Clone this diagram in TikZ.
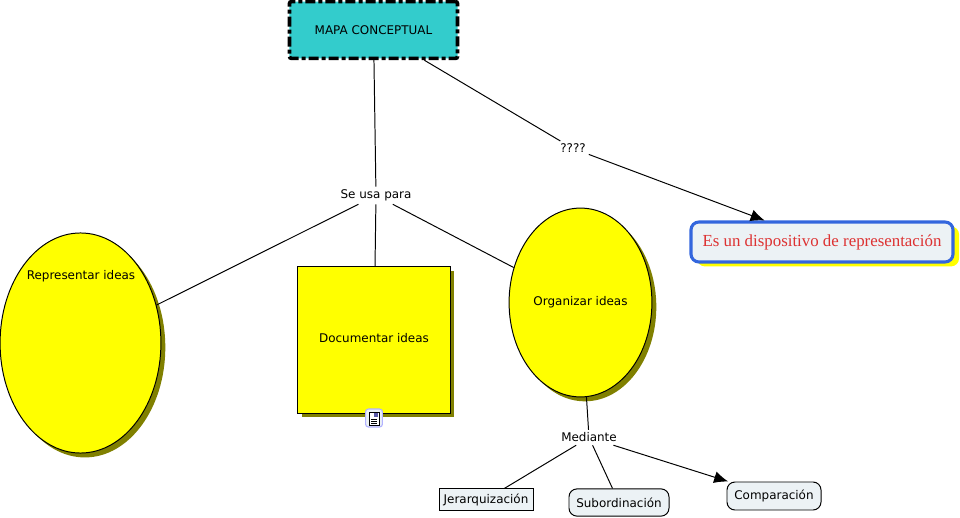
\documentclass[tikz,border=0pt]{standalone}
\usepackage{fontspec}
\setmainfont{DejaVu Sans}
\newfontfamily\redfont{Liberation Serif}
\usetikzlibrary{arrows.meta, shapes.geometric, shadows}
\definecolor{tealbox}{RGB}{51,204,204}
\definecolor{paleblue}{RGB}{236,242,245}
\definecolor{blueline}{RGB}{51,102,221}
\definecolor{redtext}{RGB}{221,50,50}
\definecolor{oliveshadow}{RGB}{128,128,0}
\definecolor{fullyellow}{RGB}{255,255,0}
\tikzset{
    linktext/.style={font=\fontsize{8.5pt}{10pt}\selectfont, inner sep=2pt},
    yellowshadow/.style={fill=fullyellow, draw=black, line width=0.7pt,
        copy shadow={shadow xshift=0.11cm, shadow yshift=-0.11cm, fill=oliveshadow, draw=none}},
    bigellipse/.style={ellipse, yellowshadow, inner sep=0pt},
    leafbox/.style={draw=black, fill=paleblue, line width=0.7pt, font=\fontsize{8.5pt}{10pt}\selectfont, inner sep=0pt},
}
\begin{document}
\begin{tikzpicture}[x=0.025cm,y=-0.025cm,>={Latex[length=3.5mm,width=3mm]},font=\fontsize{8.5pt}{10pt}\selectfont]
        \useasboundingbox (0,0) rectangle (960,518);
        \node[draw=black, fill=tealbox, line width=2.6pt, dash pattern=on 0.25cm off 0.075cm on 0.1cm off 0.075cm, rounded corners=0.05cm, minimum width=4.2cm, minimum height=1.42cm, inner sep=0pt] (mapa) at (373.5,30) {MAPA CONCEPTUAL};
        \node[linktext] (usa) at (376,195.5) {Se usa para};
        \node[linktext] (preg) at (573,148.5) {????};
        \node[linktext] (medi) at (589,437.5) {Mediante};
        \node[bigellipse, minimum width=4.02cm, minimum height=5.5cm] (repr) at (80.5,343) {};
        \node[linktext] (reprtext) at (81,276.5) {Representar ideas};
        \node[yellowshadow, minimum width=3.8cm, minimum height=3.65cm, inner sep=0pt] (docu) at (374,340) {};
        \node[linktext] (docutext) at (374,338) {Documentar ideas};
        \node[bigellipse, minimum width=3.57cm, minimum height=4.72cm] (orga) at (580.5,302.5) {Organizar ideas};
        \node[draw=blueline, fill=paleblue, line width=2.2pt, rounded corners=0.2cm, minimum width=6.55cm, minimum height=1cm, inner sep=0pt, text=redtext, font=\redfont\fontsize{12pt}{14pt}\selectfont, copy shadow={shadow xshift=0.15cm, shadow yshift=-0.11cm, fill=fullyellow, draw=none, opacity=1}] (repre) at (822,242) {Es un dispositivo de representación};
        \node[leafbox, minimum width=2.35cm, minimum height=0.53cm] (jera) at (486,499.5) {Jerarquización};
        \node[leafbox, rounded corners=0.2cm, minimum width=2.5cm, minimum height=0.68cm] (subo) at (619,502.5) {Subordinación};
        \node[leafbox, rounded corners=0.2cm, minimum width=2.35cm, minimum height=0.7cm] (comp) at (774,496) {Comparación};

        \node[draw=blue!30, fill=paleblue, line width=0.8pt, rounded corners=0.07cm, minimum width=0.42cm, minimum height=0.45cm, inner sep=0pt] (icon) at (374,418) {};
        \draw[black, fill=white, line width=0.6pt] (369,412) rectangle (379,425);
        \draw[black, line width=0.5pt] (371,419) -- (377,419) (371,421) -- (377,421) (371,423) -- (377,423);
        \fill[blue!30!gray] (374,413) rectangle (378,417);

        \path[draw, line width=0.7pt]
        (mapa) edge (usa)
               edge (preg)
        (usa) edge (repr)
              edge (docu)
              edge (orga)
        (orga) edge (medi)
        (medi) edge (jera)
               edge (subo)
        ;
        \path[draw, ->, line width=0.7pt]
        (preg) edge (repre)
        (medi) edge (comp)
        ;
    \end{tikzpicture}
\end{document}
